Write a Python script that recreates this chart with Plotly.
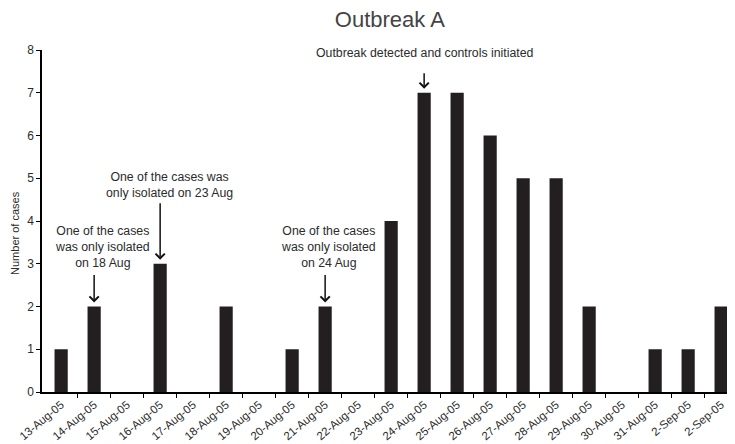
import plotly.graph_objects as go

# ---- data ----
tick_labels = ["13-Aug-05", "14-Aug-05", "15-Aug-05", "16-Aug-05", "17-Aug-05",
               "18-Aug-05", "19-Aug-05", "20-Aug-05", "21-Aug-05", "22-Aug-05",
               "23-Aug-05", "24-Aug-05", "25-Aug-05", "26-Aug-05", "27-Aug-05",
               "28-Aug-05", "29-Aug-05", "30-Aug-05", "31-Aug-05", "2-Sep-05",
               "2-Sep-05"]
cases = [1, 2, 0, 3, 0, 2, 0, 1, 2, 0, 4, 7, 7, 6, 5, 5, 2, 0, 1, 1, 2]

# annotations: (category index, text, arrow length px, text gap px, text x shift px)
notes = [
    (1, "One of the cases<br>was only isolated<br>on 18 Aug", 29, 2, 8),
    (3, "One of the cases was<br>only isolated on 23 Aug", 58, 0, 9),
    (8, "One of the cases<br>was only isolated<br>on 24 Aug", 29, 2, 3),
    (11, "Outbreak detected and controls initiated", 17, 10, 1),
]

FONT = "Arial, Liberation Sans, sans-serif"
TXT = "#2b2b2b"

x = list(range(len(cases)))

fig = go.Figure()
fig.add_trace(go.Bar(
    x=x, y=cases, width=0.4,
    marker=dict(color="#231f20", line=dict(width=0)),
))

for idx, text, alen, tgap, tx in notes:
    v = cases[idx]
    fig.add_annotation(x=idx, y=v, xref="x", yref="y", text="",
                       showarrow=True, ax=0, ay=-alen, arrowhead=4,
                       arrowsize=1.2, arrowwidth=1.5, arrowcolor="#111",
                       yshift=4)
    fig.add_annotation(x=idx, y=v, xref="x", yref="y", text=text,
                       showarrow=False, yanchor="bottom", align="center",
                       yshift=4 + alen + tgap, xshift=tx,
                       font=dict(family=FONT, size=12.3, color=TXT))

# y-axis title placed as annotation (offset like the original)
fig.add_annotation(text="Number of cases", xref="paper", yref="paper",
                   x=-0.039, y=0.465, xanchor="center", yanchor="middle",
                   textangle=-90, showarrow=False,
                   font=dict(family=FONT, size=11, color=TXT))

fig.update_layout(
    width=727, height=436,
    margin=dict(l=34, r=0, t=42, b=52),
    plot_bgcolor="white", paper_bgcolor="white",
    showlegend=False,
    font=dict(family=FONT, size=12, color=TXT),
    title=dict(text="Outbreak A", xref="paper", x=0.502, xanchor="center",
               y=0.975, yanchor="middle",
               font=dict(family=FONT, size=22, color="#444")),
    xaxis=dict(
        range=[-0.58, len(cases) - 0.58],
        tickmode="array", tickvals=x, ticktext=tick_labels,
        tickangle=-40, ticks="", showgrid=False, zeroline=False,
        showline=True, linecolor="black", linewidth=1.5,
        tickfont=dict(family=FONT, size=11.5, color=TXT),
        minor=dict(tickmode="array",
                   tickvals=[i + 0.5 for i in x[:-1]],
                   ticks="outside", ticklen=4, tickcolor="black",
                   tickwidth=1.2, showgrid=False),
    ),
    yaxis=dict(
        range=[0, 8], dtick=1, ticks="outside", ticklen=4,
        tickcolor="black", tickwidth=1.2,
        showgrid=False, zeroline=False,
        showline=True, linecolor="black", linewidth=1.5,
        tickfont=dict(family=FONT, size=12, color=TXT),
    ),
)

fig.write_html("out.html")
